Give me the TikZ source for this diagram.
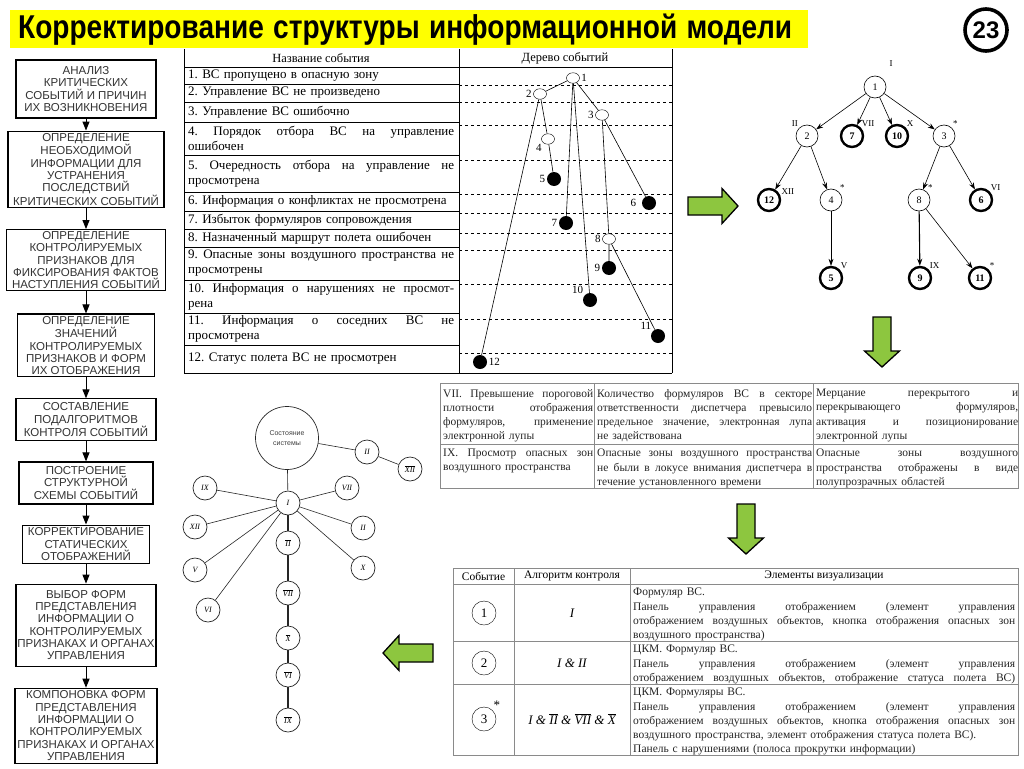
\documentclass[tikz,border=0pt]{standalone}
\usepackage{fontspec}
\setmainfont{Liberation Serif}
\setsansfont{Liberation Sans}
\usetikzlibrary{arrows.meta,positioning,calc,shapes.geometric}
\definecolor{TitleYellow}{HTML}{FFFF00}
\definecolor{ArrowGreen}{HTML}{8DC63F}
\definecolor{GridGray}{HTML}{8A8A8A}
\frenchspacing
% justified line of a given width
\newcommand{\jl}[2][266pt]{\leavevmode\hbox to #1{\spaceskip=0.3em plus 1fil\relax #2}}
\newcommand{\ovl}[1]{$\overline{\hbox{#1}}$}

\tikzset{
  stagebox/.style={draw,line width=1.1pt,align=center,inner xsep=1pt,inner ysep=2pt,
    font=\sffamily\fontsize{11.5}{12.3}\selectfont,text=black!80},
  flow/.style={-{Triangle[width=7pt,length=9pt]},line width=1pt},
  evtext/.style={anchor=west,align=left,text width=266pt,inner sep=0pt,font=\fontsize{13}{15}\selectfont},
  opn/.style={ellipse,draw,fill=white,minimum width=13pt,minimum height=10.5pt,inner sep=0pt},
  shut/.style={circle,fill=black,minimum size=14pt,inner sep=0pt},
  evlbl/.style={font=\fontsize{11}{11}\selectfont,inner sep=1.5pt},
  tnode/.style={circle,draw,line width=0.6pt,minimum size=22pt,inner sep=0pt,font=\fontsize{10}{10}\selectfont},
  tleaf/.style={tnode,line width=2.4pt,font=\bfseries\fontsize{10}{10}\selectfont},
  rlbl/.style={font=\fontsize{9}{9}\selectfont,inner sep=1pt},
  tarr/.style={-{Stealth[length=7pt,width=5pt]},line width=0.6pt},
  gnode/.style={circle,draw=black!85,line width=0.7pt,minimum size=24pt,inner sep=0pt,font=\itshape\fontsize{8}{8}\selectfont},
  gedge/.style={draw=black!85,line width=0.6pt},
  cell/.style={anchor=north west,align=left,inner sep=0pt,font=\fontsize{11.5}{14.2}\selectfont,text=black!85,text width=#1},
  pics/greenarrow/.style={code={
    \draw[fill=ArrowGreen,line width=1.3pt] (-25,-9) -- (9,-9) -- (9,-17.5) -- (25,0) -- (9,17.5) -- (9,9) -- (-25,9) -- cycle;}}
}

\begin{document}
\begin{tikzpicture}[x=1pt,y=-1pt,>=Latex,every node/.style={align=center}]
\fill[white] (0,0) rectangle (1024,768);
\useasboundingbox (0,0) rectangle (1024,768);

% title
\node[fill=TitleYellow,anchor=north west,minimum height=37pt,inner xsep=8pt,text width=782pt,align=left,
  font=\sffamily\bfseries\fontsize{33}{33}\selectfont] (title) at (10,10) {\scalebox{0.85}[1]{Корректирование структуры информационной модели}};
\node[circle,draw,line width=3.6pt,minimum size=42pt,inner sep=0pt,font=\sffamily\bfseries\fontsize{24}{24}\selectfont] (slide) at (986,30) {23};

% stages
\node[stagebox,minimum width=140pt,minimum height=58pt] (s1) at (86,89) {АНАЛИЗ\\КРИТИЧЕСКИХ\\СОБЫТИЙ И ПРИЧИН\\ИХ ВОЗНИКНОВЕНИЯ};
\node[stagebox,minimum width=156pt,minimum height=76pt,below=12pt of s1] (s2) {ОПРЕДЕЛЕНИЕ\\НЕОБХОДИМОЙ\\ИНФОРМАЦИИ ДЛЯ\\УСТРАНЕНИЯ\\ПОСЛЕДСТВИЙ\\КРИТИЧЕСКИХ СОБЫТИЙ};
\node[stagebox,minimum width=159pt,minimum height=61pt,below=21pt of s2] (s3) {ОПРЕДЕЛЕНИЕ\\КОНТРОЛИРУЕМЫХ\\ПРИЗНАКОВ ДЛЯ\\ФИКСИРОВАНИЯ ФАКТОВ\\НАСТУПЛЕНИЯ СОБЫТИЙ};
\node[stagebox,minimum width=137pt,minimum height=62pt,below=22pt of s3] (s4) {ОПРЕДЕЛЕНИЕ\\ЗНАЧЕНИЙ\\КОНТРОЛИРУЕМЫХ\\ПРИЗНАКОВ И ФОРМ\\ИХ ОТОБРАЖЕНИЯ};
\node[stagebox,minimum width=140pt,minimum height=42pt,below=21pt of s4] (s5) {СОСТАВЛЕНИЕ\\ПОДАЛГОРИТМОВ\\КОНТРОЛЯ СОБЫТИЙ};
\node[stagebox,minimum width=134pt,minimum height=42pt,below=20pt of s5] (s6) {ПОСТРОЕНИЕ\\СТРУКТУРНОЙ\\СХЕМЫ СОБЫТИЙ};
\node[stagebox,minimum width=127pt,minimum height=38pt,below=20pt of s6] (s7) {КОРРЕКТИРОВАНИЕ\\СТАТИЧЕСКИХ\\ОТОБРАЖЕНИЙ};
\node[stagebox,minimum width=140pt,minimum height=82pt,below=20pt of s7] (s8) {ВЫБОР ФОРМ\\ПРЕДСТАВЛЕНИЯ\\ИНФОРМАЦИИ О\\КОНТРОЛИРУЕМЫХ\\ПРИЗНАКАХ И ОРГАНАХ\\УПРАВЛЕНИЯ};
\node[stagebox,minimum width=142pt,minimum height=75pt,below=21pt of s8] (s9) {КОМПОНОВКА ФОРМ\\ПРЕДСТАВЛЕНИЯ\\ИНФОРМАЦИИ О\\КОНТРОЛИРУЕМЫХ\\ПРИЗНАКАХ И ОРГАНАХ\\УПРАВЛЕНИЯ};
\foreach \a/\b in {s1/s2,s2/s3,s3/s4,s4/s5,s5/s6,s6/s7,s7/s8,s8/s9}
  \draw[flow] (\a) -- (\b);

% event table
\foreach \xx in {184,459,672} \draw[line width=0.8pt] (\xx,49) -- (\xx,373);
\draw[line width=0.8pt] (184,67) -- (672,67) (184,373) -- (672,373);
\foreach \yy in {84,102,122,155,192,211,229,247,280,313,345} \draw[line width=0.8pt] (184,\yy) -- (459,\yy);
\foreach \yy in {85,102,125,160,194,213,233,250,284,319,353} \draw[dashed,line width=0.6pt] (459,\yy) -- (672,\yy);
\node[font=\fontsize{12.5}{12.5}\selectfont] (hname) at (321,58) {Название события};
\node[font=\fontsize{12.5}{12.5}\selectfont] (htree) at (565,58) {Дерево событий};
\node[evtext] (r1) at (188,75.5) {1. ВС пропущено в опасную зону};
\node[evtext] (r2) at (188,93) {2. Управление ВС не произведено};
\node[evtext] (r3) at (188,112) {3. Управление ВС ошибочно};
\node[evtext] (r4) at (188,138.5) {\jl{4. Порядок отбора ВС на управление}\\ошибочен};
\node[evtext] (r5) at (188,173.5) {\jl{5. Очередность отбора на управление не}\\просмотрена};
\node[evtext] (r6) at (188,201.5) {6. Информация о конфликтах не просмотрена};
\node[evtext] (r7) at (188,220) {7. Избыток формуляров сопровождения};
\node[evtext] (r8) at (188,238) {8. Назначенный маршрут полета ошибочен};
\node[evtext] (r9) at (188,263.5) {\jl{9. Опасные зоны воздушного пространства не}\\просмотрены};
\node[evtext] (r10) at (188,296.5) {\jl{10. Информация о нарушениях не просмот-}\\рена};
\node[evtext] (r11) at (188,329) {\jl{11. Информация о соседних ВС не}\\просмотрена};
\node[evtext] (r12) at (188,359) {12. Статус полета ВС не просмотрен};

% event tree in the table
\node[opn,label={[evlbl]east:1}] (e1) at (573,78) {};
\node[opn,label={[evlbl]west:2}] (e2) at (540,94) {};
\node[opn,label={[evlbl]west:3}] (e3) at (602,115) {};
\node[opn,label={[evlbl]south west:4}] (e4) at (548,139) {};
\node[shut,label={[evlbl]west:5}] (e5) at (554,179) {};
\node[shut,label={[evlbl,label distance=4pt]west:6}] (e6) at (649,203) {};
\node[shut,label={[evlbl]west:7}] (e7) at (566,223) {};
\node[opn,label={[evlbl]west:8}] (e8) at (609,239) {};
\node[shut,label={[evlbl]west:9}] (e9) at (609,268) {};
\node[shut,label={[evlbl]north west:10}] (e10) at (590,300) {};
\node[shut,label={[evlbl]north west:11}] (e11) at (658,336) {};
\node[shut,label={[evlbl]east:12}] (e12) at (480,362) {};
\draw[line width=0.6pt] (e1) -- (e2) (e1) -- (e3) (e1) -- (e7) (e1) -- (e10)
  (e2) -- (e4) (e2) -- (e12) (e4) -- (e5) (e3) -- (e6) (e3) -- (e8) (e8) -- (e9) (e8) -- (e11);

% tree of events
\node[tnode,label={[rlbl,label distance=12pt]55:I}] (t1) at (875,87) {1};
\node[tnode,label={[rlbl]north west:II}] (t2) at (807,136) {2};
\node[tleaf,label={[rlbl]north east:VII}] (t7) at (852,136) {7};
\node[tleaf,label={[rlbl]north east:X}] (t10) at (897,136) {10};
\node[tnode,label={[rlbl]north east:*}] (t3) at (944,136) {3};
\node[tleaf,label={[rlbl]20:XII}] (t12) at (769,200) {12};
\node[tnode,label={[rlbl]north east:*}] (t4) at (831,200) {4};
\node[tnode,label={[rlbl]north east:*}] (t8) at (919,200) {8};
\node[tleaf,label={[rlbl]north east:VI}] (t6) at (981,200) {6};
\node[tleaf,label={[rlbl]north east:V}] (t5) at (831,278) {5};
\node[tleaf,label={[rlbl]north east:IX}] (t9) at (920,278) {9};
\node[tleaf,label={[rlbl]north east:*}] (t11) at (980,278) {11};
\foreach \a/\b in {t1/t2,t1/t7,t1/t10,t1/t3,t2/t12,t2/t4,t4/t5,t3/t8,t3/t6,t8/t11}
  \draw[tarr] (\a) -- (\b);
\draw[tarr,line width=1.1pt] (t8) -- (t9);

% green arrows
\pic at (713,206) {greenarrow};
\pic[rotate=-90] at (882,342) {greenarrow};
\pic[rotate=-90] at (746,529) {greenarrow};
\pic[rotate=180] at (408,653) {greenarrow};

% visual elements table
\draw[GridGray,line width=0.8pt] (440,383) rectangle (1018,488) (440,444) -- (1018,444)
  (594,383) -- (594,488) (813,383) -- (813,488);
\node[cell=150pt] (v11) at (443,389) {\jl[150pt]{VII. Превышение пороговой}\\\jl[150pt]{плотности отображения}\\\jl[150pt]{формуляров, применение}\\электронной лупы};
\node[cell=215pt] (v12) at (597,389) {\jl[215pt]{Количество формуляров ВС в секторе}\\\jl[215pt]{ответственности диспетчера превысило}\\\jl[215pt]{предельное значение, электронная лупа}\\не задействована};
\node[cell=202pt] (v13) at (816,389) {\jl[202pt]{Мерцание перекрытого и}\\\jl[202pt]{перекрывающего формуляров,}\\\jl[202pt]{активация и позиционирование}\\электронной лупы};
\node[cell=150pt] (v21) at (443,449) {\jl[150pt]{IX. Просмотр опасных зон}\\воздушного пространства};
\node[cell=215pt] (v22) at (597,449) {\jl[215pt]{Опасные зоны воздушного пространства}\\\jl[215pt]{не были в локусе внимания диспетчера в}\\течение установленного времени};
\node[cell=202pt] (v23) at (816,449) {\jl[202pt]{Опасные зоны воздушного}\\\jl[202pt]{пространства отображены в виде}\\полупрозрачных областей};

% graph of system state
\node[circle,draw=black!85,line width=0.7pt,minimum size=63pt,inner sep=0pt,font=\sffamily\fontsize{7}{10}\selectfont,text=black!75] (state) at (287,438) {Состояние\\системы};
\node[gnode] (g1) at (288,503) {I};
\node[gnode] (g2t) at (367,452) {II};
\node[gnode] (g12n) at (410,469) {\ovl{XII}};
\node[gnode] (g9) at (205,488) {IX};
\node[gnode] (g7) at (347,488) {VII};
\node[gnode] (g12) at (195,527) {XII};
\node[gnode] (g2) at (363,528) {II};
\node[gnode] (g2n) at (288,543) {\ovl{II}};
\node[gnode] (g5) at (195,570) {V};
\node[gnode] (g10) at (363,568) {X};
\node[gnode] (g6) at (208,610) {VI};
\node[gnode] (g7n) at (288,593) {\ovl{VII}};
\node[gnode] (g10n) at (288,638) {\ovl{X}};
\node[gnode] (g6n) at (288,675) {\ovl{VI}};
\node[gnode] (g9n) at (288,720) {\ovl{IX}};
\draw[gedge] (state) -- (g1) (state) -- (g2t) -- (g12n);
\foreach \t in {g9,g7,g12,g2,g5,g10,g6} \draw[gedge] (g1) -- (\t);
\draw[gedge,line width=1.3pt] (g1) -- (g2n) -- (g7n) -- (g10n) -- (g6n) -- (g9n);

% control algorithm table
\draw[GridGray,line width=0.8pt] (453,568) rectangle (1018,755) (453,584) -- (1018,584)
  (453,641) -- (1018,641) (453,684) -- (1018,684) (514,568) -- (514,755) (630,568) -- (630,755);
\node[font=\fontsize{11.5}{11.5}\selectfont] (hev) at (483.5,576) {Событие};
\node[font=\fontsize{11.5}{11.5}\selectfont] (halg) at (572,576) {Алгоритм контроля};
\node[font=\fontsize{11.5}{11.5}\selectfont] (hvis) at (824,576) {Элементы визуализации};
\node[circle,draw,minimum size=24pt,inner sep=0pt,font=\fontsize{13}{13}\selectfont] (c1) at (484,613) {1};
\node[circle,draw,minimum size=24pt,inner sep=0pt,font=\fontsize{13}{13}\selectfont] (c2) at (484,663) {2};
\node[circle,draw,minimum size=24pt,inner sep=0pt,font=\fontsize{13}{13}\selectfont,
  label={[font=\fontsize{13}{13}\selectfont,inner sep=0pt,label distance=1pt]north east:*}] (c3) at (484,719) {3};
\node[font=\itshape\fontsize{13}{13}\selectfont] (a1) at (572,613) {I};
\node[font=\itshape\fontsize{13}{13}\selectfont] (a2) at (572,663) {I \& II};
\node[font=\itshape\fontsize{13}{13}\selectfont] (a3) at (572,719) {I \& \ovl{II} \& \ovl{VII} \& \ovl{X}};
\node[cell=382pt] (d1) at (633,588) {Формуляр ВС.\\\jl[382pt]{Панель управления отображением (элемент управления}\\\jl[382pt]{отображением воздушных объектов, кнопка отображения опасных зон}\\воздушного пространства)};
\node[cell=382pt] (d2) at (633,645) {ЦКМ. Формуляр ВС.\\\jl[382pt]{Панель управления отображением (элемент управления}\\\jl[382pt]{отображением воздушных объектов, отображение статуса полета ВС)}};
\node[cell=382pt] (d3) at (633,688) {ЦКМ. Формуляры ВС.\\\jl[382pt]{Панель управления отображением (элемент управления}\\\jl[382pt]{отображением воздушных объектов, кнопка отображения опасных зон}\\воздушного пространства, элемент отображения статуса полета ВС).\\Панель с нарушениями (полоса прокрутки информации)};
\end{tikzpicture}
\end{document}
